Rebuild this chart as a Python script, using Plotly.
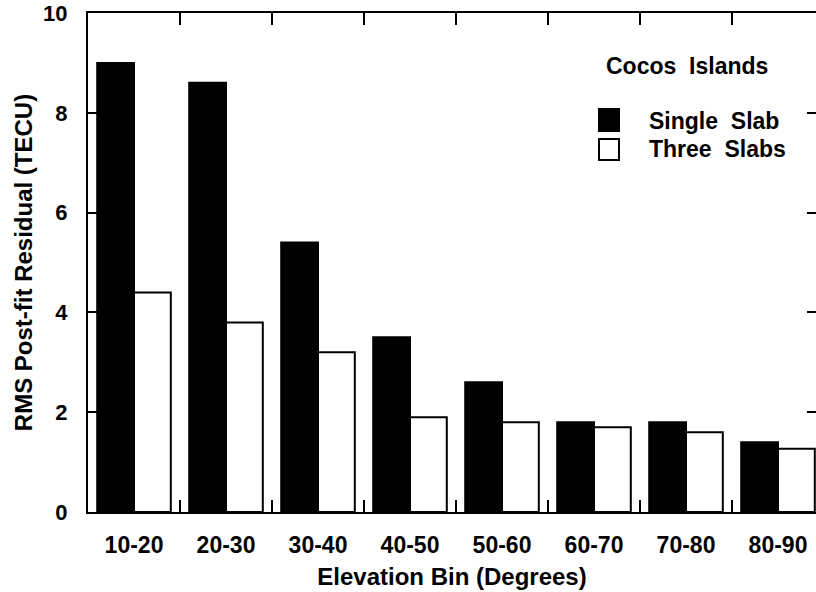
import plotly.graph_objects as go

categories = ["10-20", "20-30", "30-40", "40-50", "50-60", "60-70", "70-80", "80-90"]
single_slab = [9.0, 8.6, 5.4, 3.5, 2.6, 1.8, 1.8, 1.4]
three_slabs = [4.4, 3.8, 3.2, 1.9, 1.8, 1.7, 1.6, 1.27]
y_ticks = [0, 2, 4, 6, 8, 10]

FONT = "Liberation Sans, Arial, Helvetica, sans-serif"

fig = go.Figure()
fig.add_trace(go.Bar(x=categories, y=single_slab, name="Single Slab",
                     marker=dict(color="black", line=dict(color="black", width=2))))
fig.add_trace(go.Bar(x=categories, y=three_slabs, name="Three Slabs",
                     marker=dict(color="white", line=dict(color="black", width=2))))
# invisible helper trace so the right-hand (mirrored) tick axis is rendered
fig.add_trace(go.Scatter(x=categories, y=single_slab, yaxis="y2", mode="markers",
                         marker=dict(opacity=0), showlegend=False, hoverinfo="skip"))

W, H = 816, 592
ml, mt, mb, mr = 88, 13, 80, 0
pw, ph = W - ml - mr, H - mt - mb

def px(x):
    return (x - ml) / pw

def py(y):
    return (H - mb - y) / ph

fig.update_layout(
    width=W, height=H,
    margin=dict(l=ml, r=mr, t=mt, b=mb, pad=0, autoexpand=False),
    paper_bgcolor="white", plot_bgcolor="white",
    barmode="group", bargap=0.2, bargroupgap=0,
    showlegend=False,
    font=dict(family=FONT, color="black", size=21, weight="bold"),
    xaxis=dict(
        type="category", range=[-0.5, 7.413], automargin=False,
        tickson="boundaries", ticks="inside", ticklen=12, tickwidth=2, tickcolor="black",
        showline=True, linewidth=2, linecolor="black", mirror="ticks",
        showgrid=False, zeroline=False,
        tickfont=dict(size=23, weight="bold"), ticklabelstandoff=11,
        title=dict(text="Elevation Bin (Degrees)", font=dict(size=24, weight="bold"), standoff=12),
    ),
    yaxis=dict(
        range=[0, 10], tickvals=y_ticks, automargin=False,
        ticks="inside", ticklen=9, tickwidth=2, tickcolor="black",
        showline=True, linewidth=2, linecolor="black",
        showgrid=False, zeroline=False,
        tickfont=dict(size=22, weight="bold"), ticklabelstandoff=14,
        title=dict(text="RMS Post-fit Residual (TECU)", font=dict(size=24, weight="bold"), standoff=4),
    ),
    yaxis2=dict(
        overlaying="y", side="right", anchor="x", range=[0, 10], tickvals=y_ticks, automargin=False,
        ticks="inside", ticklen=9, tickwidth=2, tickcolor="black",
        showline=False, showgrid=False, zeroline=False, showticklabels=False,
    ),
)

# Legend drawn as annotations + swatches
fig.add_annotation(xref="paper", yref="paper", x=px(604), y=py(66), xanchor="left", yanchor="middle",
                   text="Cocos  Islands", showarrow=False, font=dict(size=23, weight="bold"))
fig.add_shape(type="rect", xref="paper", yref="paper", x0=px(599), x1=px(619), y0=py(131), y1=py(109),
              fillcolor="black", line=dict(color="black", width=2))
fig.add_shape(type="rect", xref="paper", yref="paper", x0=px(599), x1=px(619), y0=py(160), y1=py(139),
              fillcolor="white", line=dict(color="black", width=2))
fig.add_annotation(xref="paper", yref="paper", x=px(647), y=py(121), xanchor="left", yanchor="middle",
                   text="Single  Slab", showarrow=False, font=dict(size=23, weight="bold"))
fig.add_annotation(xref="paper", yref="paper", x=px(647), y=py(149), xanchor="left", yanchor="middle",
                   text="Three  Slabs", showarrow=False, font=dict(size=23, weight="bold"))

fig.write_html("out.html", config={"displayModeBar": False},
               post_script="document.body.style.margin='0';")
